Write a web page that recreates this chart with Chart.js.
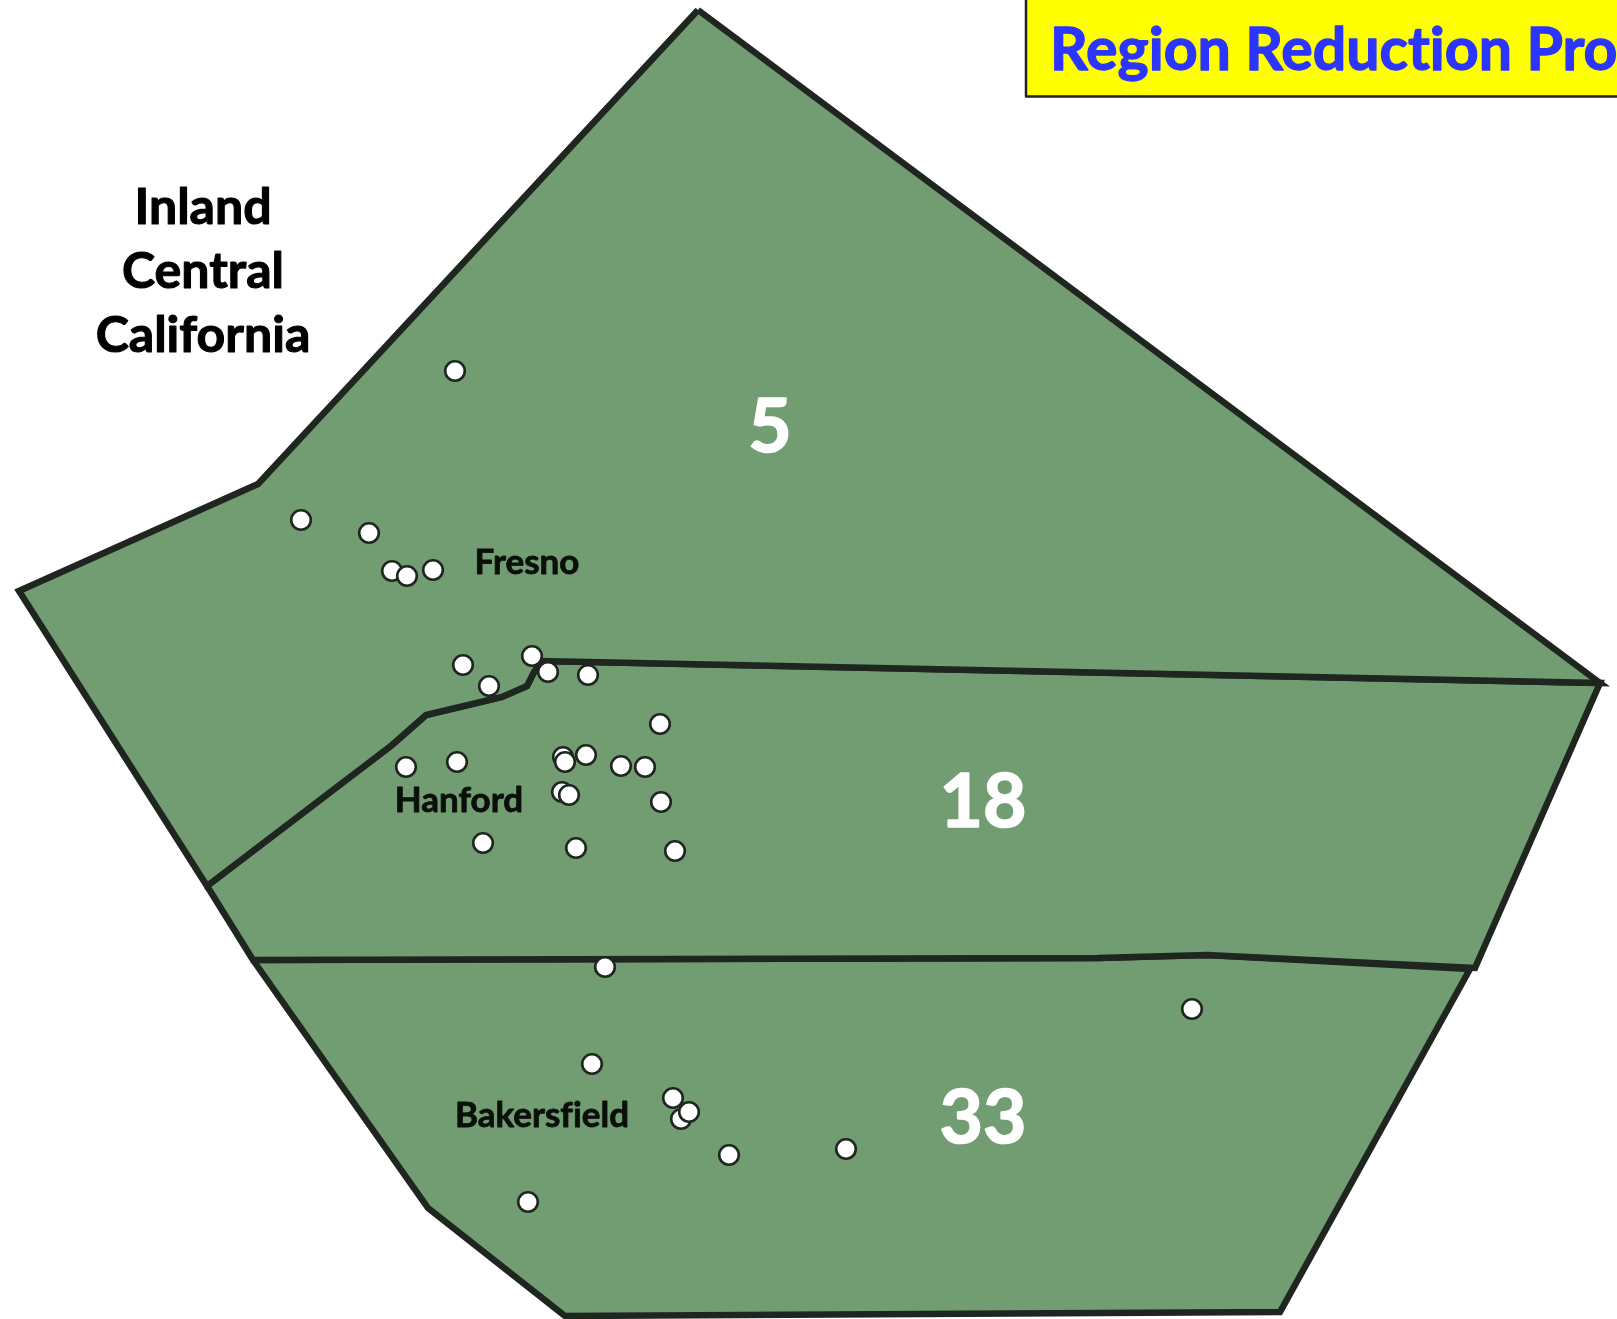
<!DOCTYPE html>
<html>
<head>
<meta charset="utf-8">
<title>Region Reduction</title>
<script src="https://cdn.jsdelivr.net/npm/chart.js@4"></script>
<style>
html,body{margin:0;padding:0;background:#fff;overflow:hidden}
#wrap{position:relative;width:1617px;height:1319px}
canvas{display:block}
</style>
</head>
<body>
<div id="wrap"><canvas id="c" width="1617" height="1319"></canvas></div>
<script>
const northX = [698,1600,541,534,527,502,426,392,207,19,258,698];
const northY = [10,683,661,672,686,697,715,745,886,591,484,10];
const middleX = [207,392,426,502,527,534,541,1600,1475,1207,1098,253,207];
const middleY = [886,745,715,697,686,672,661,683,968,955,958,960,886];
const southX = [253,1098,1207,1470,1280,565,428,253];
const southY = [960,958,955,969,1312,1316,1208,960];

const siteX = [455,301,369,392,407,433,463,489,532,548,588,660,406,457,563,565,586,621,645,562,569,661,483,576,675,605,592,1192,673,681,689,729,846,528];
const siteY = [371,520,533,571,576,570,665,686,656,672,675,724,767,762,757,762,755,766,767,792,795,802,843,848,851,967,1064,1009,1098,1119,1112,1155,1149,1202];

const regionCounts = ["5","18","33"];
const cityNames = ["Fresno","Hanford","Bakersfield"];
const areaTitle = ["Inland","Central","California"];
const banner = "Region Reduction Pro";

const toPoints = (xs, ys) => xs.map((x, i) => ({x, y: ys[i]}));
const GREEN = "#729c71", INK = "#1f261f";
const region = (label, xs, ys) => ({
  label, data: toPoints(xs, ys), showLine: true, fill: "shape", tension: 0,
  backgroundColor: GREEN, borderColor: INK, borderWidth: 6.5,
  borderJoinStyle: "miter", pointRadius: 0, pointHoverRadius: 0
});

const textLayer = {
  id: "textLayer",
  afterDatasetsDraw(chart) {
    const {ctx, scales: {x, y}} = chart;
    const put = (t, px, py, size, color, align) => {
      ctx.font = `bold ${size}px Lato, "Open Sans", sans-serif`; ctx.fillStyle = color;
      ctx.letterSpacing = "0.01px";
      ctx.strokeStyle = color; ctx.lineWidth = size / 45; ctx.lineJoin = "round";
      ctx.textAlign = align || "center"; ctx.textBaseline = "middle";
      const a = x.getPixelForValue(px), b = y.getPixelForValue(py);
      ctx.strokeText(t, a, b); ctx.fillText(t, a, b);
    };
    ctx.save();
    [[770,428],[983,803],[983,1119]].forEach((p, i) => put(regionCounts[i], p[0], p[1], 75, "#ffffff"));
    [[527,563],[459,801],[542,1116]].forEach((p, i) => put(cityNames[i], p[0], p[1], 35, "#0a0f0a"));
    [[203,208],[203,272],[203,336]].forEach((p, i) => put(areaTitle[i], p[0], p[1], 50, "#000000"));
    const bx = x.getPixelForValue(1026), by = y.getPixelForValue(-4);
    ctx.fillStyle = "#ffff00"; ctx.strokeStyle = "#222222"; ctx.lineWidth = 2.5;
    ctx.fillRect(bx, by, 700, 100.5); ctx.strokeRect(bx, by, 700, 100.5);
    ctx.font = `bold 59px Lato, "Open Sans", sans-serif`; ctx.fillStyle = "#2b35ff"; ctx.strokeStyle = "#2b35ff";
    ctx.lineWidth = 1.3; ctx.lineJoin = "round";
    ctx.textAlign = "left"; ctx.textBaseline = "alphabetic";
    ctx.strokeText(banner, x.getPixelForValue(1050), y.getPixelForValue(70));
    ctx.fillText(banner, x.getPixelForValue(1050), y.getPixelForValue(70));
    ctx.restore();
  }
};

new Chart(document.getElementById("c"), {
  type: "scatter",
  data: { datasets: [
    { label: "Sites", data: toPoints(siteX, siteY), showLine: false,
      pointRadius: 9.8, pointHoverRadius: 9.8, pointBorderWidth: 2.6,
      pointBackgroundColor: "#ffffff", pointBorderColor: INK },
    region("North", northX, northY),
    region("Middle", middleX, middleY),
    region("South", southX, southY)
  ]},
  options: {
    responsive: false, animation: false, events: [],
    layout: { padding: 0, autoPadding: false },
    plugins: { legend: { display: false }, tooltip: { enabled: false }, title: { display: false } },
    scales: {
      x: { type: "linear", min: 0, max: 1617, display: false },
      y: { type: "linear", min: 0, max: 1319, reverse: true, display: false }
    }
  },
  plugins: [textLayer]
});
</script>
</body>
</html>
